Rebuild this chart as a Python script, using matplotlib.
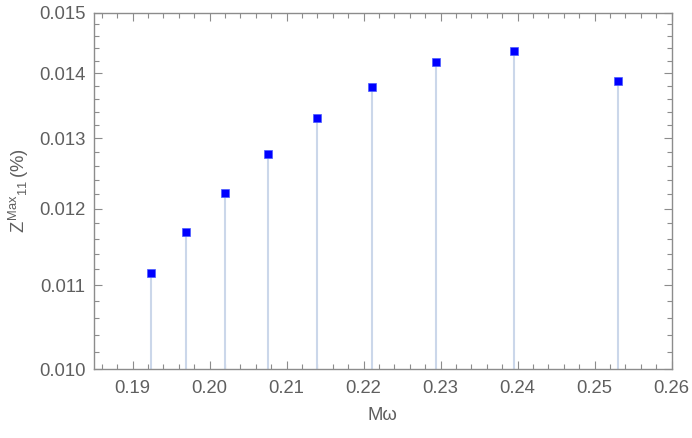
import matplotlib
matplotlib.use("Agg")
import matplotlib.pyplot as plt
from matplotlib.ticker import FixedLocator, NullFormatter, MultipleLocator

m_omega = [0.19238, 0.19700, 0.20201, 0.20758, 0.21392, 0.22112, 0.22944, 0.23952, 0.25301]
z_max = [0.011148, 0.011680, 0.012223, 0.012766, 0.013299, 0.013787, 0.014172, 0.014351, 0.013870]
x_ticks = [0.19, 0.20, 0.21, 0.22, 0.23, 0.24, 0.25, 0.26]
x_tick_labels = ["0.19", "0.20", "0.21", "0.22", "0.23", "0.24", "0.25", "0.26"]
y_ticks = [0.010, 0.011, 0.012, 0.013, 0.014, 0.015]
y_tick_labels = ["0.010", "0.011", "0.012", "0.013", "0.014", "0.015"]

plt.rcParams['font.family'] = ['Liberation Sans', 'DejaVu Sans']
plt.rcParams['mathtext.fontset'] = 'custom'
plt.rcParams['mathtext.rm'] = 'Liberation Sans'
plt.rcParams['mathtext.it'] = 'Liberation Sans'

text_c = '#5f5f5f'
frame_c = '#8c8c8c'

fig = plt.figure(figsize=(6.92, 4.38), dpi=100)
ax = fig.add_axes([94/692, 1-369/438, (671.5-94)/692, (369-12.5)/438])
ax.set_yscale('log')
ax.set_xlim(0.185, 0.26)
ax.set_ylim(0.010, 0.015)

ax.vlines(m_omega, 0.010, z_max, colors='#cbd7ea', linewidth=1.5, zorder=2)
ax.plot(m_omega, z_max, linestyle='none', marker='s', markersize=5.6,
        color='#0000ff', markeredgecolor='#4a5cff', markeredgewidth=0.5, zorder=3)

ax.xaxis.set_major_locator(FixedLocator(x_ticks))
ax.set_xticklabels(x_tick_labels)
ax.xaxis.set_minor_locator(MultipleLocator(0.002))
ax.yaxis.set_major_locator(FixedLocator(y_ticks))
ax.set_yticklabels(y_tick_labels)
ax.yaxis.set_minor_locator(FixedLocator([0.010 + 0.0002*i for i in range(26)]))
ax.yaxis.set_minor_formatter(NullFormatter())

ax.tick_params(which='both', direction='in', top=True, right=True, color=frame_c,
               labelcolor=text_c, labelsize=13.3, width=0.8)
ax.tick_params(which='major', length=6, pad=6)
ax.tick_params(axis='x', which='major', pad=8)
ax.tick_params(which='minor', length=3.5)
for s in ax.spines.values():
    s.set_color(frame_c)
    s.set_linewidth(1.0)

ax.set_xlabel('M\u03c9', color=text_c, fontsize=13.3, labelpad=7)
ax.set_ylabel(r'$Z^{\mathrm{Max}}{}_{11}\,$(%)', color=text_c, fontsize=13.3, labelpad=6)

fig.savefig('out.png', dpi=100)
